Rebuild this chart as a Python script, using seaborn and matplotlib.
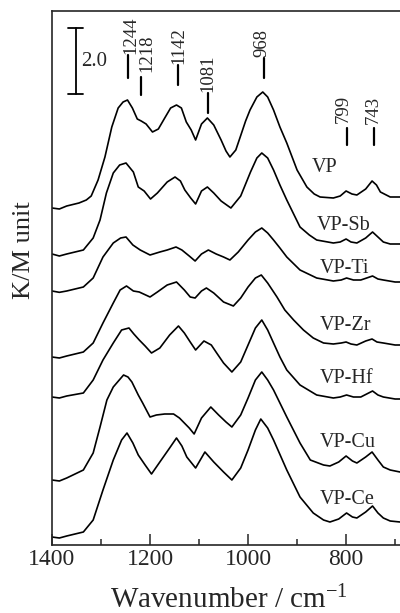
import matplotlib
matplotlib.use("Agg")
import matplotlib.pyplot as plt
import seaborn as sns
from matplotlib.ticker import MultipleLocator

# Diffuse reflectance spectra (K/M units, already offset for stacking)
vp_wn = [1400, 1385, 1370, 1345, 1330, 1320, 1306, 1292, 1278, 1265, 1255, 1246, 1236, 1226, 1218,
         1208, 1195, 1183, 1170, 1158, 1146, 1136, 1126, 1116, 1107, 1095, 1083, 1070, 1055, 1045,
         1037, 1025, 1016, 1005, 996, 982, 970, 960, 948, 935, 921, 900, 880, 865, 853,
         826, 812, 800, 788, 778, 760, 747, 738, 730, 710, 690]
vp_km = [10.11, 10.08, 10.17, 10.26, 10.35, 10.47, 10.95, 11.64, 12.54, 13.11, 13.29, 13.35, 13.11, 12.78, 12.72,
         12.63, 12.39, 12.48, 12.81, 13.11, 13.20, 13.11, 12.69, 12.45, 12.15, 12.63, 12.81, 12.60, 12.15, 11.82,
         11.64, 11.85, 12.24, 12.72, 13.05, 13.44, 13.59, 13.44, 13.05, 12.54, 12.06, 11.25, 10.74, 10.53, 10.44,
         10.41, 10.47, 10.62, 10.53, 10.50, 10.68, 10.92, 10.80, 10.59, 10.44, 10.44]

sb_wn = [1400, 1385, 1370, 1336, 1316, 1302, 1289, 1275, 1262, 1249, 1234, 1224, 1212, 1199, 1185,
         1165, 1149, 1138, 1129, 1117, 1107, 1095, 1083, 1070, 1055, 1035, 1015, 995, 982, 972,
         960, 948, 935, 921, 894, 875, 860, 826, 812, 800, 790, 778, 760, 746, 735, 724, 710, 690]
sb_km = [8.73, 8.67, 8.73, 8.85, 9.21, 9.75, 10.56, 11.16, 11.40, 11.46, 11.19, 10.74, 10.62, 10.38, 10.56,
         10.89, 11.04, 10.92, 10.65, 10.41, 10.23, 10.62, 10.74, 10.56, 10.32, 10.11, 10.47, 11.19, 11.61, 11.76,
         11.61, 11.25, 10.80, 10.35, 9.54, 9.30, 9.15, 9.06, 9.09, 9.18, 9.09, 9.06, 9.21, 9.39, 9.24, 9.09, 9.03, 9.03]

ti_wn = [1400, 1385, 1370, 1336, 1316, 1296, 1275, 1260, 1249, 1235, 1220, 1200, 1180, 1165, 1147,
         1135, 1120, 1108, 1095, 1081, 1065, 1050, 1037, 1020, 1000, 985, 972, 960, 948, 935,
         921, 894, 860, 826, 810, 799, 785, 770, 758, 746, 735, 724, 700, 690]
ti_km = [7.62, 7.58, 7.62, 7.74, 8.01, 8.64, 9.06, 9.21, 9.24, 9.00, 8.85, 8.70, 8.79, 8.85, 8.94,
         8.85, 8.67, 8.52, 8.73, 8.85, 8.73, 8.64, 8.55, 8.79, 9.15, 9.39, 9.51, 9.36, 9.15, 8.91,
         8.64, 8.25, 8.01, 7.92, 7.95, 8.01, 7.95, 7.95, 8.01, 8.07, 7.98, 7.95, 7.89, 7.89]

zr_wn = [1400, 1385, 1370, 1336, 1316, 1296, 1275, 1261, 1248, 1234, 1222, 1200, 1185, 1165, 1146,
         1130, 1118, 1108, 1095, 1085, 1070, 1050, 1030, 1015, 1000, 985, 973, 960, 941, 925,
         907, 887, 867, 846, 826, 810, 800, 790, 778, 760, 747, 737, 724, 700, 690]
zr_km = [5.64, 5.61, 5.67, 5.79, 6.06, 6.66, 7.26, 7.65, 7.77, 7.62, 7.59, 7.44, 7.59, 7.80, 7.89,
         7.65, 7.44, 7.41, 7.62, 7.71, 7.56, 7.29, 7.17, 7.41, 7.74, 8.01, 8.10, 7.86, 7.44, 7.05,
         6.75, 6.45, 6.21, 6.06, 6.03, 6.06, 6.09, 6.03, 6.00, 6.12, 6.18, 6.09, 6.06, 6.00, 6.00]

hf_wn = [1400, 1385, 1370, 1336, 1316, 1296, 1275, 1258, 1243, 1233, 1222, 1210, 1197, 1180, 1160,
         1142, 1130, 1118, 1107, 1090, 1075, 1064, 1050, 1033, 1015, 1000, 985, 972, 960, 948,
         935, 921, 894, 860, 826, 812, 799, 785, 770, 758, 746, 735, 724, 700, 690]
hf_km = [4.44, 4.41, 4.47, 4.56, 4.95, 5.55, 6.06, 6.45, 6.51, 6.33, 6.15, 5.97, 5.76, 5.91, 6.30,
         6.57, 6.36, 6.09, 5.85, 6.12, 6.00, 5.76, 5.46, 5.19, 5.49, 6.00, 6.51, 6.75, 6.45, 6.06,
         5.64, 5.25, 4.80, 4.50, 4.41, 4.44, 4.50, 4.44, 4.44, 4.53, 4.62, 4.50, 4.44, 4.38, 4.38]

cu_wn = [1400, 1385, 1370, 1336, 1316, 1302, 1288, 1275, 1254, 1245, 1237, 1224, 1215, 1200, 1187,
         1170, 1152, 1140, 1130, 1120, 1110, 1095, 1076, 1060, 1045, 1033, 1015, 1000, 985, 972,
         960, 948, 921, 894, 873, 846, 833, 815, 800, 787, 778, 760, 747, 735, 724, 710, 690]
cu_km = [1.95, 1.92, 2.01, 2.25, 2.76, 3.54, 4.35, 4.74, 5.10, 5.04, 4.89, 4.50, 4.26, 3.84, 3.90,
         3.93, 3.93, 3.81, 3.66, 3.51, 3.33, 3.81, 4.14, 3.90, 3.69, 3.54, 3.90, 4.41, 4.95, 5.19,
         4.95, 4.65, 3.84, 3.06, 2.55, 2.40, 2.37, 2.49, 2.67, 2.52, 2.46, 2.64, 2.79, 2.55, 2.34, 2.25, 2.19]

ce_wn = [1400, 1385, 1370, 1336, 1316, 1296, 1275, 1258, 1247, 1235, 1224, 1210, 1197, 1180, 1160,
         1146, 1135, 1125, 1107, 1088, 1070, 1050, 1033, 1015, 1000, 985, 974, 960, 948, 921,
         894, 867, 846, 833, 815, 799, 787, 778, 760, 746, 735, 724, 710, 690]
ce_km = [0.24, 0.21, 0.27, 0.39, 0.75, 1.65, 2.55, 3.15, 3.36, 3.06, 2.70, 2.40, 2.13, 2.49, 2.91,
         3.21, 2.97, 2.64, 2.31, 2.79, 2.49, 2.19, 1.95, 2.31, 2.85, 3.45, 3.78, 3.51, 3.15, 2.25,
         1.44, 0.96, 0.75, 0.69, 0.78, 0.96, 0.84, 0.81, 0.99, 1.17, 0.96, 0.81, 0.72, 0.69]

sample_names = ["VP", "VP-Sb", "VP-Ti", "VP-Zr", "VP-Hf", "VP-Cu", "VP-Ce"]
spectra = [(vp_wn, vp_km), (sb_wn, sb_km), (ti_wn, ti_km), (zr_wn, zr_km),
           (hf_wn, hf_km), (cu_wn, cu_km), (ce_wn, ce_km)]

# marked band positions (cm-1)
peak_labels = ["1244", "1218", "1142", "1081", "968", "799", "743"]

sns.set_style("ticks")
plt.rcParams["font.family"] = ["Liberation Serif", "DejaVu Serif"]
plt.rcParams["mathtext.fontset"] = "custom"
plt.rcParams["mathtext.rm"] = "Liberation Serif"
plt.rcParams["mathtext.default"] = "regular"

fig = plt.figure(figsize=(4.0, 6.13), dpi=100)
ax = fig.add_axes([0.13, 68 / 613, 0.87, 534 / 613])

for (wn, km) in spectra:
    sns.lineplot(x=wn, y=km, sort=False, color="black", linewidth=1.2,
                 solid_joinstyle="round", ax=ax)

# curve names
name_pos = [(870, 11.2), (860, 9.45), (853, 8.16), (853, 6.45), (853, 4.86), (853, 2.94), (853, 1.23)]
for name, (x, y) in zip(sample_names, name_pos):
    ax.text(x, y, name, fontsize=14.5, ha="left", va="baseline")

# band markers: tick line + rotated label
line_spans = [(14.01, 14.70), (13.50, 14.04), (13.80, 14.40), (12.96, 13.56),
              (14.01, 14.61), (12.00, 12.51), (12.00, 12.51)]
text_x = [1238, 1207, 1141, 1081, 971, 805, 744]
text_y = [14.73, 14.19, 14.43, 13.58, 14.63, 12.66, 12.64]
for lab, (y0, y1), tx, ty in zip(peak_labels, line_spans, text_x, text_y):
    w = float(lab)
    ax.plot([w, w], [y0, y1], color="black", lw=1.6)
    ax.text(tx, ty, lab, rotation=90, fontsize=13.5, ha="center", va="bottom")

# scale bar 2.0 K/M
ax.plot([1352, 1352], [13.52, 15.52], color="black", lw=1.3)
ax.plot([1367, 1337], [15.52, 15.52], color="black", lw=1.3)
ax.plot([1367, 1337], [13.52, 13.52], color="black", lw=1.3)
ax.text(1314, 14.49, "2.0", fontsize=15, ha="center", va="center")

ax.set_xlim(1400, 690)
ax.set_ylim(0, 16.02)
ax.xaxis.set_major_locator(MultipleLocator(200))
ax.xaxis.set_minor_locator(MultipleLocator(100))
ax.tick_params(axis="x", which="major", direction="in", length=8, width=1.1, labelsize=17, pad=3)
ax.tick_params(axis="x", which="minor", direction="in", length=4.3, width=1.1)
ax.set_yticks([])
ax.spines["right"].set_visible(False)
for s in ["left", "top", "bottom"]:
    ax.spines[s].set_linewidth(1.2)
ax.set_xlabel("")
ax.set_ylabel("")

fig.text(229 / 400, 1 - 608 / 613, "Wavenumber / cm$^{-1}$", fontsize=21, ha="center", va="baseline")
fig.text(24 / 400, 1 - 250 / 613, "K/M unit", fontsize=19, rotation=90, ha="center", va="center")

fig.savefig("out.png", dpi=100)
